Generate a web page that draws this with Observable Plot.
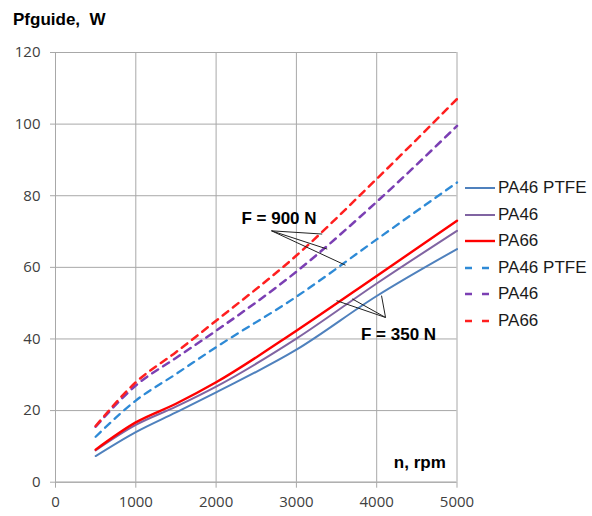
<!DOCTYPE html>
<html><head><meta charset="utf-8">
<script src="https://cdn.jsdelivr.net/npm/d3@7"></script>
<script src="https://cdn.jsdelivr.net/npm/@observablehq/plot@0.6"></script>
<style>
body{margin:0;background:#fff;width:592px;height:516px;position:relative;overflow:hidden;font-family:"Liberation Sans",Arial,sans-serif}
#chart{position:absolute;left:0;top:0}
#title{position:absolute;left:13px;top:10px;font-weight:bold;font-size:17px;white-space:pre;color:#000}
#legend{position:absolute;left:465px;top:175px}
.item{height:26.5px;display:flex;align-items:center;font-size:17px;color:#1a1a1a;white-space:nowrap}
.item svg{margin-right:3px}
</style></head><body>
<div id="chart"></div><div id="title">Pfguide,  W</div><div id="legend"></div>
<script>
// data
const rpm = [500, 1000, 1500, 2000, 3000, 4000, 5000];
const seriesNames = ["PA46 PTFE", "PA46", "PA66", "PA46 PTFE", "PA46", "PA66"];
const seriesLoad = [350, 350, 350, 900, 900, 900];
const pa46ptfe350 = [7.3, 14.0, 19.5, 25.1, 37.0, 52.0, 65.1];
const pa46_350 = [8.9, 16.0, 21.1, 26.7, 40.1, 55.5, 70.2];
const pa66_350 = [9.1, 16.7, 21.9, 27.9, 42.3, 57.6, 73.0];
const pa46ptfe900 = [12.7, 22.8, 30.2, 37.7, 51.8, 67.8, 83.7];
const pa46_900 = [15.5, 27.0, 34.7, 42.3, 58.8, 78.3, 99.5];
const pa66_900 = [15.7, 27.9, 36.3, 45.1, 63.3, 84.7, 107.0];
const seriesValues = [pa46ptfe350, pa46_350, pa66_350, pa46ptfe900, pa46_900, pa66_900];
const xTicks = [0, 1000, 2000, 3000, 4000, 5000];
const yTicks = [0, 20, 40, 60, 80, 100, 120];
const annotText = ["F = 900 N", "F = 350 N"];
const annotX = [2783, 4272];
const annotY = [73.7, 41.2];
// leader lines (data units): from label toward curves
const leaderX1 = [2690, 2690, 2690, 4110, 4110, 4110];
const leaderY1 = [70.2, 70.2, 70.2, 46.0, 46.0, 46.0];
const leaderX2 = [3321, 3384, 3611, 3499, 3695, 4060];
const leaderY2 = [69.3, 65.1, 60.6, 50.7, 51.2, 52.1];
const axisLabelX = "n, rpm";

// styles
const colors = ["#4f81bd", "#8064a2", "#ff0000", "#2e8ad6", "#7b3fb3", "#ff1f1f"];
const dashes = [null, null, null, "7,6", "7,6", "7,6"];
const widths = [2, 2, 2.4, 2.3, 2.5, 2.5];
const gridColor = "#a8a8a8";

const lineMarks = seriesValues.map((vals, i) => {
  const rows = rpm.map((r, j) => ({n: r, p: vals[j]}));
  return Plot.line(rows, {x: "n", y: "p", stroke: colors[i], strokeWidth: widths[i],
    strokeDasharray: dashes[i] || undefined, curve: "monotone-x"});
});
const leaders = leaderX1.map((x, i) => ({x1: x, y1: leaderY1[i], x2: leaderX2[i], y2: leaderY2[i]}));
const annots = annotText.map((t, i) => ({t, x: annotX[i], y: annotY[i]}));

const chart = Plot.plot({
  width: 592, height: 516,
  marginLeft: 55, marginRight: 135.5, marginTop: 52, marginBottom: 34.3,
  x: {domain: [0, 5000]},
  y: {domain: [0, 120]},
  style: {fontFamily: "'Open Sans', sans-serif", fontSize: "15px", color: "#404040", background: "#fff"},
  marks: [
    Plot.gridX(xTicks, {stroke: gridColor, strokeOpacity: 1}),
    Plot.gridY(yTicks, {stroke: gridColor, strokeOpacity: 1}),
    Plot.axisX(xTicks, {tickSize: 6, tickPadding: 8, stroke: gridColor, label: null, tickFormat: d => String(d)}),
    Plot.axisY(yTicks, {tickSize: 5, tickPadding: 10, stroke: gridColor, label: null}),
    Plot.ruleX([0], {stroke: gridColor}),
    Plot.ruleY([0], {stroke: gridColor}),
    ...lineMarks,
    Plot.link(leaders, {x1: "x1", y1: "y1", x2: "x2", y2: "y2", stroke: "#222", strokeWidth: 1}),
    Plot.text(annots, {x: "x", y: "y", text: "t", fontWeight: "bold", fontSize: 17, fill: "#000",
      fontFamily: "'Liberation Sans', Arial, sans-serif"}),
    Plot.text([axisLabelX], {x: 4860, y: 5.5, text: d => d, textAnchor: "end", fontWeight: "bold", fontSize: 17,
      fill: "#000", fontFamily: "'Liberation Sans', Arial, sans-serif"})
  ]
});
document.getElementById("chart").appendChild(chart);

const legend = document.getElementById("legend");
seriesNames.forEach((name, i) => {
  const div = document.createElement("div");
  div.className = "item";
  div.innerHTML = `<svg width="30" height="10"><line x1="0" y1="5" x2="30" y2="5" stroke="${colors[i]}" stroke-width="${widths[i]}" ${dashes[i] ? 'stroke-dasharray="7,10"' : ''}/></svg><span>${name}</span>`;
  legend.appendChild(div);
});
</script>
</body></html>
